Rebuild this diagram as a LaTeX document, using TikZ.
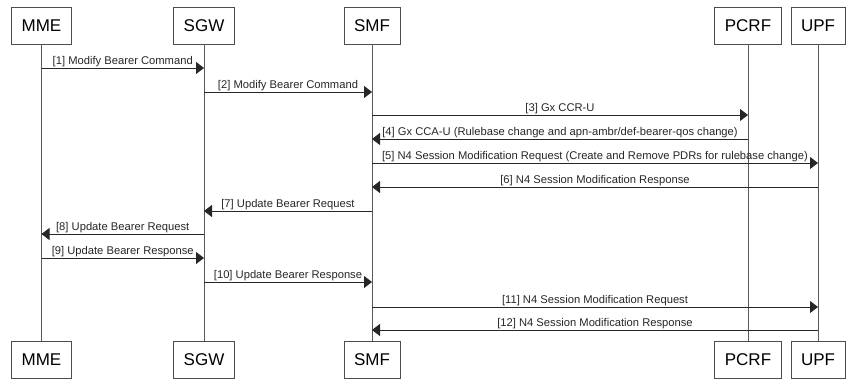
\documentclass[tikz,border=0pt]{standalone}
\usepackage{fontspec}
\setmainfont{Liberation Sans}
\usepackage{tikz}
\usetikzlibrary{arrows.meta}
\usetikzlibrary{positioning}

\tikzset{
	entity/.style={draw=black!70,line width=0.8pt,inner xsep=10pt,minimum height=37pt,font=\fontsize{17}{17}\selectfont},
	lifeline/.style={draw=black!65,line width=0.8pt},
	msg/.style={draw=black!85,line width=0.8pt,-{Triangle[length=8pt,width=12pt]}},
	msglabel/.style={anchor=south,inner sep=0.8pt,font=\fontsize{11.2}{11.2}\selectfont,text=black!85}
}

\begin{document}
\begin{tikzpicture}
	[x=1pt,y=-1pt]
	\useasboundingbox (0,0) rectangle (861,379);
	% entities on top
	\node[entity] (mme) at (41.5,25.5) {MME};
	\node[entity] (sgw) at (204,25.5) {SGW};
	\node[entity] (smf) at (372,25.5) {SMF};
	\node[entity] (pcrf) at (748,25.5) {PCRF};
	\node[entity] (upf) at (818,25.5) {UPF};
	% entities at bottom
	\node[entity] (mmeb) at (41.5,359.5) {MME};
	\node[entity] (sgwb) at (204,359.5) {SGW};
	\node[entity] (smfb) at (372,359.5) {SMF};
	\node[entity] (pcrfb) at (748,359.5) {PCRF};
	\node[entity] (upfb) at (818,359.5) {UPF};

	\foreach \top in {mme,sgw,smf,pcrf,upf}
	\draw[lifeline] (\top.south) -- (\top b.north);

	% messages
	\foreach \from/\to/\y/\txt in
	{mme/sgw/68/{[1] Modify Bearer Command},
	 sgw/smf/92/{[2] Modify Bearer Command},
	 smf/pcrf/115/{[3] Gx CCR-U},
	 pcrf/smf/139/{[4] Gx CCA-U (Rulebase change and apn-ambr/def-bearer-qos change)},
	 smf/upf/163/{[5] N4 Session Modification Request (Create and Remove PDRs for rulebase change)},
	 upf/smf/187/{[6] N4 Session Modification Response},
	 smf/sgw/211/{[7] Update Bearer Request},
	 sgw/mme/234/{[8] Update Bearer Request},
	 mme/sgw/258/{[9] Update Bearer Response},
	 sgw/smf/282/{[10] Update Bearer Response},
	 smf/upf/307/{[11] N4 Session Modification Request},
	 upf/smf/330/{[12] N4 Session Modification Response}}
	\draw[msg] (\from |- 0,\y) -- node[msglabel] {\txt} (\to |- 0,\y);
\end{tikzpicture}
\end{document}
